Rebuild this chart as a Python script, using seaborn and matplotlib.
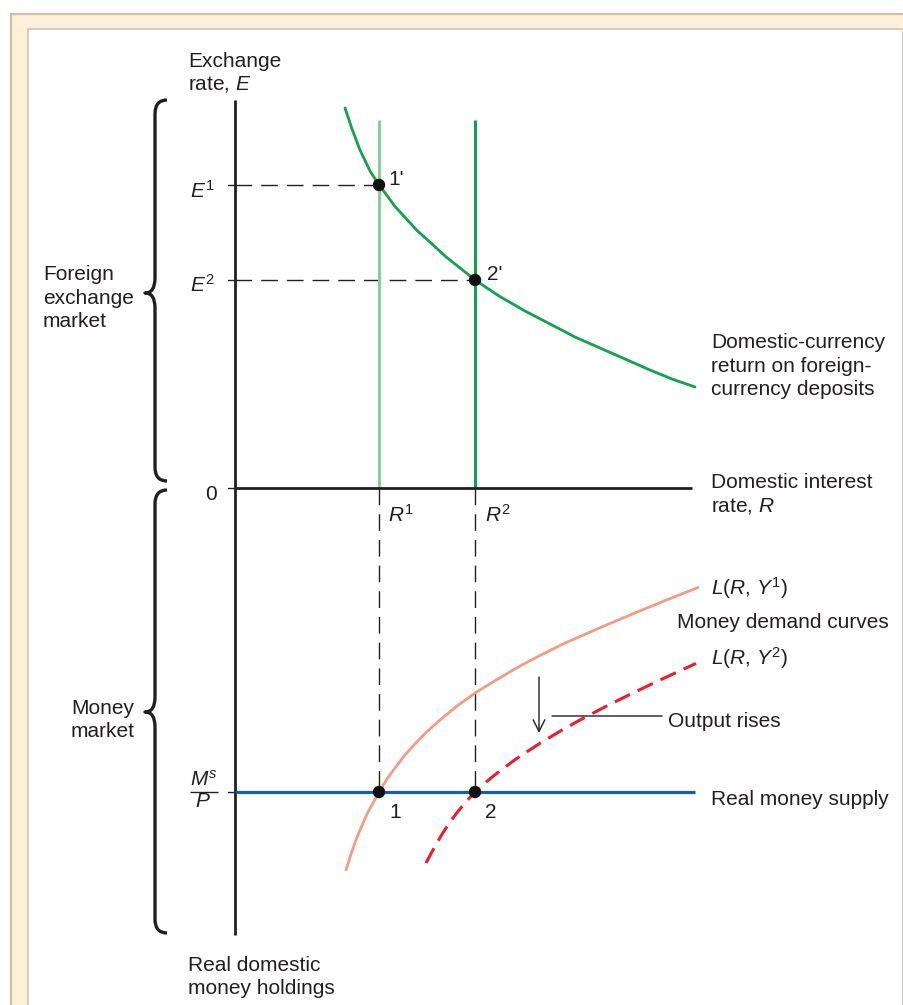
import matplotlib
matplotlib.use("Agg")
import matplotlib.pyplot as plt
import seaborn as sns
import numpy as np
import pandas as pd
from matplotlib.transforms import Affine2D
from matplotlib.path import Path
from matplotlib.patches import PathPatch, Rectangle

# ---------------- data ----------------
R1, R2 = 3.0, 5.0            # domestic interest rates
E1, E2 = 6.38, 4.38          # exchange rates
MS_P = 6.40                  # real money supply (plotted downward)

# domestic-currency return on foreign-currency deposits
fx_R = [2.292, 2.438, 2.604, 2.813, 3.000, 3.167, 3.333, 3.563, 3.792, 4.083, 4.375,
        4.688, 5.000, 5.250, 5.500, 6.042, 6.563, 7.083, 7.604, 8.125, 8.646, 9.104, 9.583]
fx_E = [8.000, 7.558, 7.116, 6.674, 6.380, 6.158, 5.926, 5.674, 5.421, 5.158, 4.884,
        4.632, 4.380, 4.211, 4.042, 3.726, 3.453, 3.179, 2.947, 2.716, 2.484, 2.295, 2.126]

# money demand L(R, Y1)
L1_R = [2.313, 2.417, 2.542, 2.750, 3.000, 3.167, 3.333, 3.521, 3.708, 3.979, 4.271,
        4.625, 5.000, 5.458, 5.938, 6.396, 6.833, 7.542, 8.229, 8.938, 9.646]
L1_M = [8.042, 7.705, 7.347, 6.863, 6.400, 6.126, 5.895, 5.642, 5.432, 5.147, 4.884,
        4.589, 4.316, 4.032, 3.747, 3.505, 3.284, 2.968, 2.674, 2.379, 2.095]

# money demand L(R, Y2)
L2_R = [3.979, 4.146, 4.333, 4.479, 4.646, 4.813, 5.000, 5.208, 5.417, 5.833, 6.354,
        6.771, 7.188, 7.708, 8.229, 8.917, 9.604]
L2_M = [7.895, 7.579, 7.255, 7.032, 6.808, 6.604, 6.400, 6.211, 6.036, 5.720, 5.373,
        5.120, 4.884, 4.608, 4.345, 4.013, 3.693]

# axis extents
E_TOP = 8.17
M_BOTTOM = 9.41
R_AXIS_END = 9.52
MS_END = 9.58
GREEN_TOP = 7.75

# ---------------- style ----------------
sns.set_theme(style="white")
plt.rcParams["font.family"] = ["Liberation Sans", "DejaVu Sans"]
plt.rcParams["mathtext.fontset"] = "custom"
plt.rcParams["mathtext.rm"] = "Liberation Sans"
plt.rcParams["mathtext.it"] = "Liberation Sans:italic"
plt.rcParams["mathtext.bf"] = "Liberation Sans:bold"

W, H = 904, 1005
fig = plt.figure(figsize=(W / 100, H / 100), dpi=100)
fig.patch.set_facecolor("white")
ax = fig.add_axes([0, 0, 1, 1])
ax.set_facecolor("none")
ax.set_axis_off()

OX, OY, SX, SY = 235, 488, 48.0, 47.5
ax.set_xlim(-OX / SX, (W - OX) / SX)
ax.set_ylim((OY - H) / SY, OY / SY)

# pixel transform (origin top-left)
PX = Affine2D().scale(1 / W, -1 / H).translate(0, 1) + fig.transFigure

# ---------------- frame ----------------
fig.add_artist(Rectangle((11, 14), 1000, 1100, transform=PX, facecolor="#FDF0D9",
                         edgecolor="#CFC1AC", lw=1.6, zorder=-5))
fig.add_artist(Rectangle((28, 29.5), 875, 1100, transform=PX, facecolor="white",
                         edgecolor="#D3C8BA", lw=1.3, zorder=-4))

FS = 15
TXT = "#231F20"

# ---------------- dashed guides ----------------
dash_kw = dict(color="#231F20", lw=1.0, ls=(0, (12, 6.5)), zorder=2)
ax.plot([0, R1], [E1, E1], **dash_kw)
ax.plot([0, R2], [E2, E2], **dash_kw)
ax.plot([R1, R1], [0, -MS_P], **dash_kw)
ax.plot([R2, R2], [0, -MS_P], **dash_kw)

# ---------------- green verticals ----------------
ax.plot([R1, R1], [0, GREEN_TOP], color="#86CE9C", lw=2.2, zorder=3, solid_capstyle="butt")
ax.plot([R2, R2], [0, GREEN_TOP], color="#14A04C", lw=2.2, zorder=3, solid_capstyle="butt")

# ---------------- axes lines ----------------
ax.plot([0, 0], [-M_BOTTOM, E_TOP], color="#231F20", lw=2.0, zorder=4, solid_capstyle="butt")
ax.plot([0, R_AXIS_END], [0, 0], color="#231F20", lw=2.0, zorder=4, solid_capstyle="butt")
tick_len = 7 / SX
for yv in [E1, E2, 0, -MS_P]:
    ax.plot([-tick_len, 0], [yv, yv], color="#231F20", lw=1.0, zorder=4)

# ---------------- curves ----------------
df_fx = pd.DataFrame({"R": fx_R, "E": fx_E})
sns.lineplot(data=df_fx, x="R", y="E", sort=False, estimator=None, ax=ax,
             color="#13A14E", lw=2.0, zorder=5)

ax.plot([0, MS_END], [-MS_P, -MS_P], color="#1560A8", lw=2.3, zorder=5, solid_capstyle="butt")

df_l1 = pd.DataFrame({"R": L1_R, "M": [-m for m in L1_M]})
sns.lineplot(data=df_l1, x="R", y="M", sort=False, estimator=None, ax=ax,
             color="#F39C85", lw=2.0, zorder=5)

df_l2 = pd.DataFrame({"R": L2_R, "M": [-m for m in L2_M]})
ax.plot(df_l2["R"], df_l2["M"], color="#EC1C2E", lw=2.2, ls=(0, (5.5, 2.8)), zorder=5)

# ---------------- points ----------------
df_pts = pd.DataFrame({"R": [R1, R2, R1, R2], "Y": [E1, E2, -MS_P, -MS_P]})
sns.scatterplot(data=df_pts, x="R", y="Y", ax=ax, color="#111111", s=80,
                edgecolor="none", zorder=7)

# ---------------- braces ----------------
def brace(y0, y1, ym, xs=155, xe=167, xt=145, r=14):
    verts = [(xe, y0), (xs, y0), (xs, y0 + r),
             (xs, ym - r * 1.05), (xs, ym), (xt, ym),
             (xs, ym), (xs, ym + r * 1.05),
             (xs, y1 - r), (xs, y1), (xe, y1)]
    codes = [Path.MOVETO, Path.CURVE3, Path.CURVE3,
             Path.LINETO, Path.CURVE3, Path.CURVE3,
             Path.CURVE3, Path.CURVE3,
             Path.LINETO, Path.CURVE3, Path.CURVE3]
    p = PathPatch(Path(verts, codes), transform=PX, facecolor="none",
                  edgecolor="#231F20", lw=2.4, capstyle="butt", joinstyle="round")
    fig.add_artist(p)

brace(100, 481, 293)
brace(490, 933, 712)

# ---------------- texts ----------------
def t(x, y, s, ha="left", **kw):
    ax.text(x, y, s, transform=PX, ha=ha, va="baseline", fontsize=FS, color=TXT, **kw)

t(188, 67, "Exchange")
t(188, 90, "rate, $E$")
t(188, 971, "Real domestic")
t(188, 994, "money holdings")

t(43, 280, "Foreign")
t(43, 304, "exchange")
t(43, 327, "market")
t(71, 714, "Money")
t(71, 737, "market")

t(215, 198, "$E^{1}$", ha="right")
t(215, 292, "$E^{2}$", ha="right")
t(217, 500, "0", ha="right")

# M^s / P fraction
t(204, 786, "$M^{s}$", ha="center")
ax.plot([190 / SX - OX / SX, 218 / SX - OX / SX], [(OY - 792) / SY] * 2,
        color=TXT, lw=1.0, solid_capstyle="butt")
t(203, 807, "$P$", ha="center")

t(388, 185, "1'")
t(487, 280, "2'")
t(388, 522, "$R^{1}$")
t(485, 522, "$R^{2}$")
t(389, 818, "1")
t(485, 818, "2")

t(711, 348, "Domestic-currency")
t(711, 372, "return on foreign-")
t(711, 395, "currency deposits")
t(711, 488, "Domestic interest")
t(711, 512, "rate, $R$")
t(711, 595, "$L$($R$, $Y^{1}$)")
t(677, 628, "Money demand curves")
t(711, 665, "$L$($R$, $Y^{2}$)")
t(668, 727, "Output rises")
t(711, 805, "Real money supply")

# arrow and leader line
ax.annotate("", xy=(539, 733), xytext=(539, 677), xycoords=PX, textcoords=PX,
            arrowprops=dict(arrowstyle="->,head_length=0.7,head_width=0.35",
                            color="#231F20", lw=1.0, shrinkA=0, shrinkB=0))
ax.annotate("", xy=(662, 716), xytext=(552, 716), xycoords=PX, textcoords=PX,
            arrowprops=dict(arrowstyle="-", color="#231F20", lw=1.0, shrinkA=0, shrinkB=0))

fig.savefig("out.png", dpi=100)
